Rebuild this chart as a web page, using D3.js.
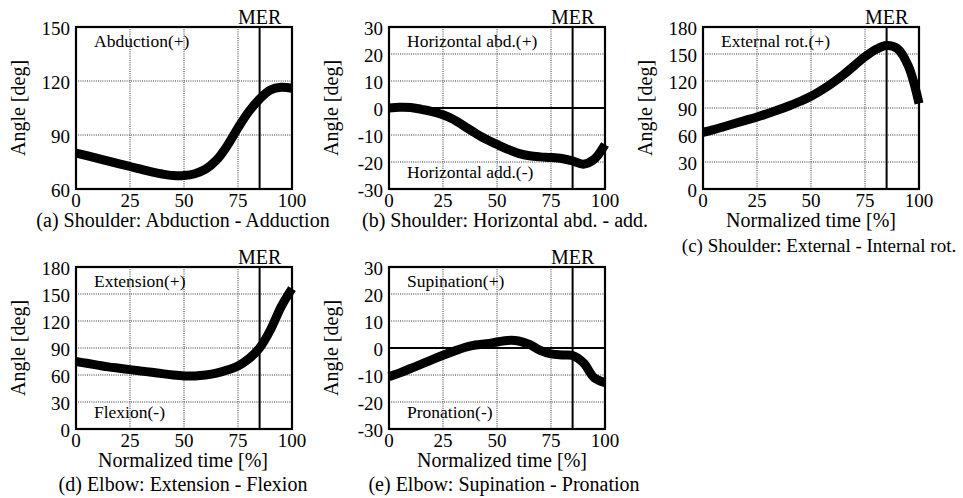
<!doctype html>
<html lang="en">
<head>
<meta charset="utf-8">
<title>Joint angles</title>
<script src="https://d3js.org/d3.v7.min.js"></script>
<style>
  body { margin: 0; background: #fff; }
  svg { font-family: "Liberation Serif", "Times New Roman", serif; }
</style>
</head>
<body>
<svg id="chart" width="963" height="498"></svg>
<script>
// normalized time samples [%]
const time = [0, 5, 10, 15, 20, 25, 30, 35, 40, 45, 50, 55, 60, 65, 70, 75, 80, 85, 90, 95, 100];

// angles [deg]
const abduction   = [80, 78.5, 77, 75.5, 74, 72.5, 71, 69.5, 68.3, 67.5, 67.5, 68.5, 71, 76, 84, 94, 103, 110, 115, 116.5, 116];
const horizontal  = [0, 0.3, 0.2, -0.5, -1.3, -2.5, -4.3, -6.8, -9.3, -11.6, -13.5, -15.3, -16.8, -17.7, -18.1, -18.3, -18.7, -19.6, -20.8, -19, -13.5];
const externalRot = [63, 66, 69.5, 73, 76.5, 80, 84, 88, 92.5, 97.5, 103, 110, 118, 127, 137, 147, 155, 159.5, 156, 137, 95];
const extension   = [75, 73, 71, 69, 67.5, 66, 64.5, 63, 61.5, 60, 59, 59, 60, 62, 65.5, 70, 78, 90, 110, 136, 156];
const supination  = [-10.6, -9.2, -7.6, -6, -4.3, -2.7, -1.2, 0.2, 1.1, 1.6, 2.2, 2.8, 2.6, 1.3, -0.9, -2.2, -2.6, -2.8, -5.5, -11, -12.8];

const xTicks = [0, 25, 50, 75, 100];
const abdTicks = [60, 90, 120, 150];
const signedTicks = [-30, -20, -10, 0, 10, 20, 30];
const wideTicks = [0, 30, 60, 90, 120, 150, 180];
const merTime = 85;

const panels = [
  { values: abduction, ticks: abdTicks, left: 76, top: 27, zero: false,
    up: "Abduction(+)", down: null, xLabel: null, labelX: 0,
    caption: "(a) Shoulder: Abduction - Adduction", capX: 183, capY: 227, capSize: 20 },
  { values: horizontal, ticks: signedTicks, left: 389, top: 27, zero: true,
    up: "Horizontal abd.(+)", down: "Horizontal add.(-)", xLabel: null, labelX: 0,
    caption: "(b) Shoulder: Horizontal abd. - add.", capX: 505, capY: 227, capSize: 20 },
  { values: externalRot, ticks: wideTicks, left: 703, top: 27, zero: false,
    up: "External rot.(+)", down: null, xLabel: "Normalized time [%]", labelX: 811,
    caption: "(c) Shoulder: External - Internal rot.", capX: 819, capY: 252, capSize: 19 },
  { values: extension, ticks: wideTicks, left: 76, top: 267, zero: false,
    up: "Extension(+)", down: "Flexion(-)", xLabel: "Normalized time [%]", labelX: 183,
    caption: "(d) Elbow: Extension - Flexion", capX: 183, capY: 491, capSize: 20 },
  { values: supination, ticks: signedTicks, left: 389, top: 267, zero: true,
    up: "Supination(+)", down: "Pronation(-)", xLabel: "Normalized time [%]", labelX: 502,
    caption: "(e) Elbow: Supination - Pronation", capX: 504, capY: 491, capSize: 20 }
];

const pw = 216, ph = 162;
const svg = d3.select("#chart");

panels.forEach(p => {
  const g = svg.append("g").attr("transform", `translate(${p.left},${p.top})`);
  const x = d3.scaleLinear().domain([0, 100]).range([0, pw]);
  const y = d3.scaleLinear().domain(d3.extent(p.ticks)).range([ph, 0]);

  // dotted grid
  g.append("g").selectAll("line")
    .data(xTicks.slice(1, -1))
    .join("line")
    .attr("x1", d => x(d)).attr("x2", d => x(d))
    .attr("y1", 0).attr("y2", ph);
  g.append("g").selectAll("line")
    .data(p.ticks.slice(1, -1).filter(d => !(p.zero && d === 0)))
    .join("line")
    .attr("x1", 0).attr("x2", pw)
    .attr("y1", d => y(d)).attr("y2", d => y(d));
  g.selectAll("g line")
    .attr("stroke", "#333")
    .attr("stroke-width", 1)
    .attr("stroke-dasharray", "1,1.2");

  if (p.zero) {
    g.append("line")
      .attr("x1", 0).attr("x2", pw)
      .attr("y1", y(0)).attr("y2", y(0))
      .attr("stroke", "#000").attr("stroke-width", 1.8);
  }

  // MER marker
  g.append("line")
    .attr("x1", x(merTime)).attr("x2", x(merTime))
    .attr("y1", 0).attr("y2", ph)
    .attr("stroke", "#000").attr("stroke-width", 2);
  g.append("text")
    .attr("x", x(merTime)).attr("y", -3)
    .attr("text-anchor", "middle")
    .attr("font-size", 20)
    .text("MER");

  // curve
  const line = d3.line()
    .x((d, i) => x(time[i]))
    .y(d => y(d))
    .curve(d3.curveCatmullRom.alpha(0.5));
  g.append("path")
    .attr("d", line(p.values))
    .attr("fill", "none")
    .attr("stroke", "#000")
    .attr("stroke-width", 9);

  // frame
  g.append("rect")
    .attr("width", pw).attr("height", ph)
    .attr("fill", "none")
    .attr("stroke", "#000")
    .attr("stroke-width", 2.2);

  // ticks
  g.append("g").selectAll("text")
    .data(p.ticks)
    .join("text")
    .attr("x", -6).attr("y", d => y(d) + 8)
    .attr("text-anchor", "end")
    .attr("font-size", 19)
    .text(d => d);
  g.append("g").selectAll("text")
    .data(xTicks)
    .join("text")
    .attr("x", d => x(d)).attr("y", ph + 18)
    .attr("text-anchor", "middle")
    .attr("font-size", 19)
    .text(d => d);

  g.append("text")
    .attr("transform", `translate(-51,${ph / 2}) rotate(-90)`)
    .attr("text-anchor", "middle")
    .attr("font-size", 20)
    .text("Angle [deg]");

  // direction notes
  g.append("text")
    .attr("x", 18).attr("y", 20)
    .attr("font-size", 17.5)
    .text(p.up);
  if (p.down) {
    g.append("text")
      .attr("x", 18).attr("y", ph - 11)
      .attr("font-size", 17.5)
      .text(p.down);
  }

  if (p.xLabel) {
    svg.append("text")
      .attr("x", p.labelX).attr("y", p.top + ph + 38)
      .attr("text-anchor", "middle")
      .attr("font-size", 20)
      .text(p.xLabel);
  }
  svg.append("text")
    .attr("x", p.capX).attr("y", p.capY)
    .attr("text-anchor", "middle")
    .attr("font-size", p.capSize)
    .text(p.caption);
});
</script>
</body>
</html>
